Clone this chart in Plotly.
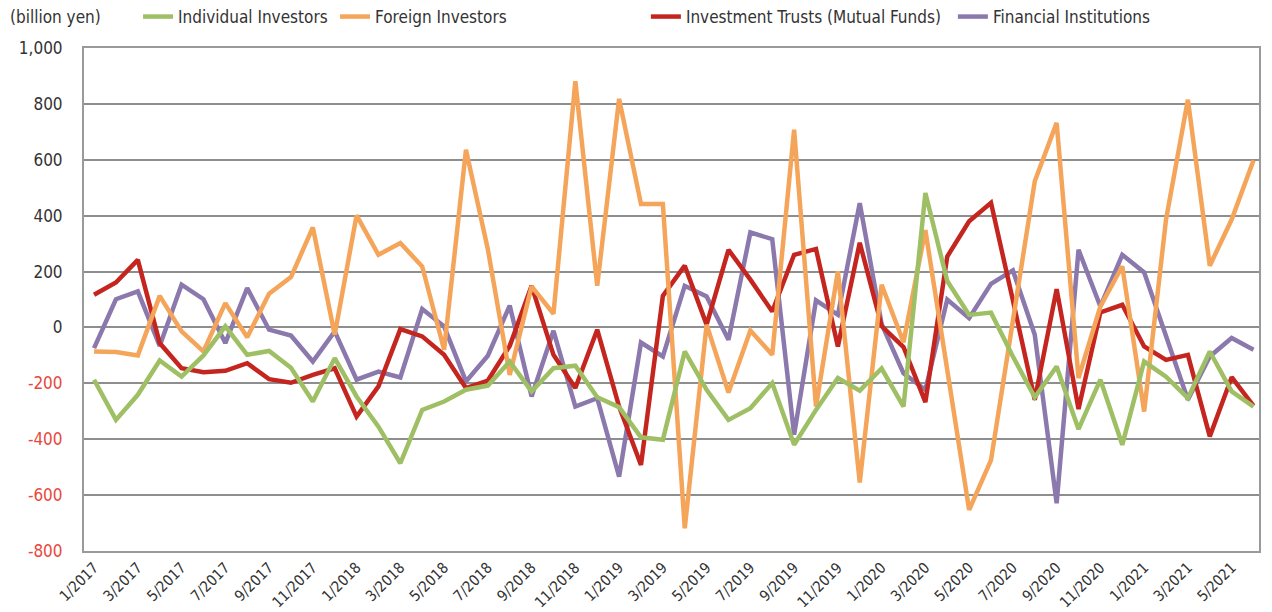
import plotly.graph_objects as go

months = [
    "1/2017", "2/2017", "3/2017", "4/2017", "5/2017", "6/2017", "7/2017", "8/2017", "9/2017", "10/2017", "11/2017", "12/2017",
    "1/2018", "2/2018", "3/2018", "4/2018", "5/2018", "6/2018", "7/2018", "8/2018", "9/2018", "10/2018", "11/2018", "12/2018",
    "1/2019", "2/2019", "3/2019", "4/2019", "5/2019", "6/2019", "7/2019", "8/2019", "9/2019", "10/2019", "11/2019", "12/2019",
    "1/2020", "2/2020", "3/2020", "4/2020", "5/2020", "6/2020", "7/2020", "8/2020", "9/2020", "10/2020", "11/2020", "12/2020",
    "1/2021", "2/2021", "3/2021", "4/2021", "5/2021", "6/2021",
]

individual = [
    -187, -331, -241, -118, -176, -100, 4, -98, -84, -144, -265, -110,
    -247, -355, -486, -295, -265, -223, -208, -122, -229, -146, -137, -250,
    -285, -393, -402, -86, -223, -331, -289, -199, -420, -295, -181, -226,
    -147, -283, 481, 166, 45, 53, -104, -250, -140, -364, -187, -420,
    -122, -176, -253, -86, -229, -283,
]
foreign = [
    -86, -88, -100, 113, -14, -86, 87, -35, 121, 180, 358, -26,
    401, 260, 302, 218, -80, 636, 280, -170, 147, 49, 881, 149,
    818, 442, 442, -719, 10, -233, -11, -98, 708, -283, 201, -555,
    153, -53, 348, -152, -653, -475, 16, 523, 732, -181, 75, 219,
    -301, 386, 815, 221, 386, 598,
]
trusts = [
    117, 161, 242, -56, -146, -160, -155, -128, -185, -198, -170, -146,
    -319, -211, -6, -32, -98, -217, -190, -66, 149, -98, -217, -8,
    -283, -492, 113, 221, 10, 278, 171, 57, 260, 281, -68, 303,
    5, -70, -267, 254, 380, 446, 97, -259, 137, -292, 54, 81,
    -68, -116, -98, -390, -178, -281,
]
financial = [
    -74, 101, 129, -66, 153, 101, -56, 141, -8, -29, -122, -14,
    -187, -158, -179, 66, 4, -193, -101, 78, -247, -12, -283, -253,
    -534, -54, -104, 149, 111, -44, 340, 316, -384, 97, 45, 445,
    12, -164, -223, 100, 33, 156, 204, -26, -629, 278, 75, 260,
    197, -30, -259, -104, -38, -80,
]

tick_months = months[::2]
y_ticks = [1000, 800, 600, 400, 200, 0, -200, -400, -600, -800]
y_tick_text = ["1,000", "800", "600", "400", "200", "0", "-200", "-400", "-600", "-800"]

NEG = "#e8473d"
y_tick_html = [t if v >= 0 else f"<span style='color:{NEG}'>{t}</span>" for v, t in zip(y_ticks, y_tick_text)]

FONT = "Liberation Sans Narrow, DejaVu Sans Condensed, Arial Narrow, sans-serif"

series = [
    ("Financial Institutions", financial, "#8b78ad", "legend2", 4),
    ("Investment Trusts (Mutual Funds)", trusts, "#c4261f", "legend2", 3),
    ("Foreign Investors", foreign, "#f4a55a", "legend", 2),
    ("Individual Investors", individual, "#9fbf65", "legend", 1),
]

fig = go.Figure()
for name, vals, color, leg, rank in series:
    fig.add_trace(go.Scatter(
        x=months, y=vals, name=name, mode="lines",
        line=dict(color=color, width=4.5),
        legend=leg, legendrank=rank,
    ))

legend_common = dict(
    orientation="h", yanchor="middle", xanchor="left",
    font=dict(family=FONT, size=17, color="#333333"),
    bgcolor="rgba(0,0,0,0)", borderwidth=0,
    itemwidth=30, tracegroupgap=0,
    entrywidthmode="pixels",
)

# the page body has an 8px margin, so the figure is sized/offset to compensate
fig.update_layout(
    width=1264, height=604,
    margin=dict(l=76, r=13, t=40, b=61, autoexpand=False),
    paper_bgcolor="white", plot_bgcolor="white",
    font=dict(family=FONT, size=17, color="#333333"),
    showlegend=True,
    legend=dict(x=0.046, y=1.0616, entrywidth=152, traceorder="normal", **legend_common),
    legend2=dict(x=0.4782, y=1.0616, entrywidth=262, traceorder="normal", **legend_common),
    xaxis=dict(
        type="category",
        categoryorder="array", categoryarray=months,
        range=[-0.46, len(months) - 1 + 0.25],
        tickmode="array", tickvals=tick_months, ticktext=tick_months,
        tickangle=-45,
        tickfont=dict(family=FONT, size=15, color="#333333"),
        showgrid=False,
        showline=True, linecolor="#9a9a9a", linewidth=2, mirror=True,
        ticks="", zeroline=False,
    ),
    yaxis=dict(
        range=[-800, 1000],
        tickmode="array", tickvals=y_ticks, ticktext=y_tick_html,
        tickfont=dict(family=FONT, size=17, color="#333333"),
        showgrid=True, gridcolor="#8e8e8e", gridwidth=1.5,
        showline=True, linecolor="#9a9a9a", linewidth=2, mirror=True,
        ticks="", zeroline=False,
        ticklabelstandoff=16,
    ),
    annotations=[dict(
        text="(billion yen)", xref="paper", yref="paper",
        x=-0.0647, y=1.0616, xanchor="left", yanchor="middle",
        showarrow=False, font=dict(family=FONT, size=17, color="#333333"),
    )],
)

fig.write_html("out.html")
